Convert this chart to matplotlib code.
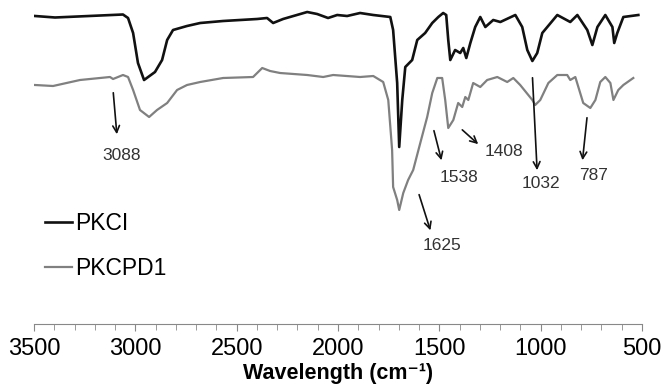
import matplotlib.pyplot as plt
from matplotlib.ticker import MultipleLocator

plt.rcParams['font.family'] = ['Liberation Sans', 'DejaVu Sans']

# wavenumber (cm-1) and transmittance (a.u.)
pkci_wn = [3495, 3396, 3061, 3036, 3011, 2987, 2957, 2903, 2868, 2843, 2814, 2745, 2680,
           2567, 2399, 2350, 2320, 2271, 2152, 2103, 2049, 2004, 1955, 1891, 1826, 1742,
           1728, 1708, 1698, 1683, 1668, 1634, 1609, 1570, 1535, 1505, 1481, 1466, 1456,
           1446, 1422, 1397, 1382, 1367, 1347, 1323, 1298, 1273, 1234, 1199, 1125, 1091,
           1066, 1041, 1017, 992, 918, 854, 819, 770, 745, 720, 681, 646, 637, 622, 592, 518]
pkci_t = [308, 306.5, 309.5, 306, 291, 261, 244, 252, 264, 284, 294, 298, 301,
          303, 305, 306, 301, 305, 312, 310, 306, 309, 308, 311, 309, 307,
          294, 241, 177, 224, 257, 264, 284, 291, 301, 307, 311, 309, 284,
          264, 274, 271, 276, 266, 281, 297, 307, 297, 304, 302, 309, 297,
          274, 263, 271, 291, 309, 302, 309, 294, 279, 297, 309, 297, 281, 291, 307, 309]

pkcpd1_wn = [3495, 3406, 3273, 3125, 3110, 3061, 3036, 3011, 2977, 2932, 2893, 2843, 2794,
             2745, 2680, 2567, 2419, 2374, 2335, 2286, 2152, 2073, 2024, 1891, 1826, 1777,
             1752, 1733, 1728, 1708, 1698, 1678, 1654, 1629, 1594, 1560, 1535, 1510, 1486,
             1471, 1456, 1431, 1407, 1387, 1372, 1357, 1333, 1298, 1264, 1214, 1165, 1135,
             1101, 1041, 1027, 1002, 962, 918, 869, 854, 829, 814, 790, 755, 730, 706, 681,
             656, 641, 617, 592, 543]
pkcpd1_t = [239, 238, 244, 247, 245, 249, 247, 234, 214, 207, 214, 221, 234,
            239, 242, 246, 247, 256, 253, 251, 249, 247, 249, 247, 248, 242,
            224, 174, 137, 124, 114, 131, 144, 154, 181, 207, 231, 246, 246,
            224, 196, 204, 221, 217, 227, 224, 241, 237, 244, 247, 242, 246,
            239, 224, 219, 224, 241, 249, 249, 244, 247, 237, 221, 216, 224, 242, 247,
            241, 224, 234, 239, 246]

# peak labels: text, arrow tail, arrow head, text position (wavenumber, transmittance)
peak_labels = ['3088', '1625', '1538', '1408', '1032', '787']
arrow_tails = [(3110, 234), (1604, 132), (1530, 196), (1397, 196), (1041, 249), (770, 209)]
arrow_heads = [(3090, 187), (1540, 91), (1486, 161), (1298, 178), (1017, 151), (795, 161)]
label_pos = [(3070, 169), (1486, 79), (1402, 146), (1180, 172), (997, 141), (740, 149)]

fig = plt.figure(figsize=(6.65, 3.87), dpi=100)
ax = fig.add_axes([34 / 665, 1 - 324 / 387, 608 / 665, 324 / 387])

ax.plot(pkci_wn, pkci_t, color='#111111', lw=1.9, label='PKCI')
ax.plot(pkcpd1_wn, pkcpd1_t, color='#808080', lw=1.6, label='PKCPD1')

for txt, tail, head, pos in zip(peak_labels, arrow_tails, arrow_heads, label_pos):
    ax.annotate('', xy=head, xytext=tail,
                arrowprops=dict(arrowstyle='->', color='#111111', lw=1.2, mutation_scale=12))
    ax.text(pos[0], pos[1], txt, ha='center', va='center', fontsize=12.5, color='#333333')

ax.set_xlim(3500, 500)
ax.set_ylim(0, 324)
ax.xaxis.set_major_locator(MultipleLocator(500))
ax.xaxis.set_minor_locator(MultipleLocator(100))
ax.tick_params(axis='x', which='major', length=5, color='#888888', labelsize=17, pad=5)
ax.tick_params(axis='x', which='minor', length=4, color='#888888')
ax.set_yticks([])
for s in ['left', 'top', 'right']:
    ax.spines[s].set_visible(False)
ax.spines['bottom'].set_color('#888888')
ax.set_xlabel('Wavelength (cm\u207b\u00b9)', fontsize=15.5, fontweight='bold', labelpad=2.5)

ax.legend(loc='upper left', bbox_to_anchor=(0.0, 0.38), frameon=False, fontsize=16.5,
          handlelength=1.15, handletextpad=0.15, labelspacing=0.95, borderpad=0)

fig.savefig('out.png', dpi=100)
